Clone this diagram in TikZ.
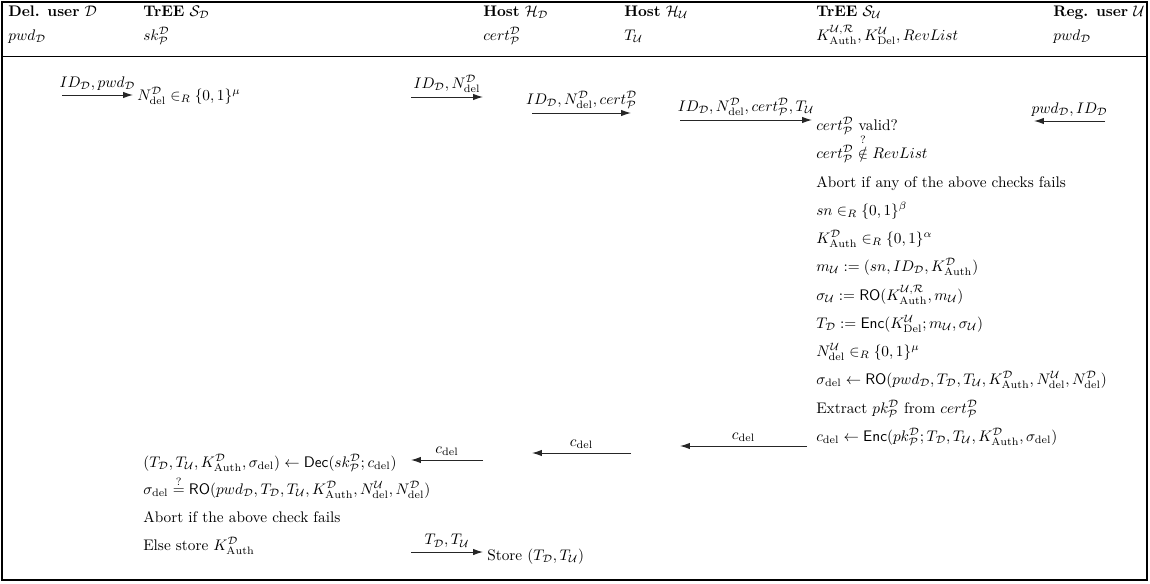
\documentclass[tikz,border=0pt]{standalone}
\usetikzlibrary{arrows.meta}
\newcommand{\cD}{\mathcal{D}}
\newcommand{\cU}{\mathcal{U}}
\newcommand{\cP}{\mathcal{P}}
\newcommand{\del}{\mathrm{del}}
\newcommand{\Auth}{\mathrm{Auth}}
\begin{document}
\begin{tikzpicture}[x=0.653pt,y=-0.653pt,
  txt/.style={anchor=base west, inner sep=0pt},
  msg/.style={-{Latex[length=6.5pt,width=4.2pt]}, line width=0.65pt, draw=black!85},
  lbl/.style={above, inner sep=2.5pt}]
\useasboundingbox (0,0) rectangle (1150,583);
\draw[line width=0.8pt] (2,2) rectangle (1147,580);
\draw[line width=0.6pt] (2,56) -- (1147,56);
% headers
\node[txt] (h1) at (8,16) {\textbf{Del. user} $\cD$};
\node[txt] (h2) at (143,16) {\textbf{TrEE} $\mathcal{S}_{\cD}$};
\node[txt] (h3) at (483,16) {\textbf{Host} $\mathcal{H}_{\cD}$};
\node[txt] (h4) at (624,16) {\textbf{Host} $\mathcal{H}_{\cU}$};
\node[txt] (h5) at (816,16) {\textbf{TrEE} $\mathcal{S}_{\cU}$};
\node[txt] (h6) at (1053,16) {\textbf{Reg. user} $\cU$};
\node[txt] (k1) at (8,40) {$pwd_{\cD}$};
\node[txt] (k2) at (143,40) {$sk^{\cD}_{\cP}$};
\node[txt] (k3) at (483,40) {$cert^{\cD}_{\cP}$};
\node[txt] (k4) at (624,40) {$T_{\cU}$};
\node[txt] (k5) at (816,40) {$K^{\cU,\mathcal{R}}_{\Auth}, K^{\cU}_{\mathrm{Del}}, RevList$};
\node[txt] (k6) at (1053,40) {$pwd_{\cD}$};
% messages top
\coordinate (a1s) at (62,95); \coordinate (a1e) at (133,95);
\draw[msg] (a1s) -- (a1e) node[lbl, midway] {$ID_{\cD}, pwd_{\cD}$};
\node[txt] (n1) at (137,100) {$N^{\cD}_{\del} \in_R \{0,1\}^{\mu}$};
\coordinate (a2s) at (411,97); \coordinate (a2e) at (483,97);
\draw[msg] (a2s) -- (a2e) node[lbl, midway] {$ID_{\cD}, N^{\cD}_{\del}$};
\coordinate (a3s) at (532,113); \coordinate (a3e) at (631,113);
\draw[msg] (a3s) -- (a3e) node[lbl, midway] {$ID_{\cD}, N^{\cD}_{\del}, cert^{\cD}_{\cP}$};
\coordinate (a4s) at (680,120); \coordinate (a4e) at (812,120);
\draw[msg] (a4s) -- (a4e) node[lbl, midway] {$ID_{\cD}, N^{\cD}_{\del}, cert^{\cD}_{\cP}, T_{\cU}$};
\coordinate (a5s) at (1105,121); \coordinate (a5e) at (1034,121);
\draw[msg] (a5s) -- (a5e) node[lbl, midway] {$pwd_{\cD}, ID_{\cD}$};
% S_U computations
\node[txt] (s1) at (816,130) {$cert^{\cD}_{\cP}$ valid?};
\node[txt] (s2) at (816,158) {$cert^{\cD}_{\cP} \stackrel{?}{\notin} RevList$};
\node[txt] (s3) at (816,187) {Abort if any of the above checks fails};
\node[txt] (s4) at (816,215) {$sn \in_R \{0,1\}^{\beta}$};
\node[txt] (s5) at (816,243) {$K^{\cD}_{\Auth} \in_R \{0,1\}^{\alpha}$};
\node[txt] (s6) at (816,271) {$m_{\cU} := (sn, ID_{\cD}, K^{\cD}_{\Auth})$};
\node[txt] (s7) at (816,300) {$\sigma_{\cU} := \mathsf{RO}(K^{\cU,\mathcal{R}}_{\Auth}, m_{\cU})$};
\node[txt] (s8) at (816,328) {$T_{\cD} := \mathsf{Enc}(K^{\cU}_{\mathrm{Del}}; m_{\cU}, \sigma_{\cU})$};
\node[txt] (s9) at (816,356) {$N^{\cU}_{\del} \in_R \{0,1\}^{\mu}$};
\node[txt] (s10) at (816,384) {$\sigma_{\del} \leftarrow \mathsf{RO}(pwd_{\cD}, T_{\cD}, T_{\cU}, K^{\cD}_{\Auth}, N^{\cU}_{\del}, N^{\cD}_{\del})$};
\node[txt] (s11) at (816,413) {Extract $pk^{\cD}_{\cP}$ from $cert^{\cD}_{\cP}$};
\node[txt] (s12) at (816,441) {$c_{\del} \leftarrow \mathsf{Enc}(pk^{\cD}_{\cP}; T_{\cD}, T_{\cU}, K^{\cD}_{\Auth}, \sigma_{\del})$};
% messages back
\coordinate (b3s) at (807,446); \coordinate (b3e) at (680,446);
\draw[msg] (b3s) -- (b3e) node[lbl, midway] {$c_{\del}$};
\coordinate (b2s) at (631,453); \coordinate (b2e) at (532,453);
\draw[msg] (b2s) -- (b2e) node[lbl, midway] {$c_{\del}$};
\coordinate (b1s) at (483,460); \coordinate (b1e) at (411,460);
\draw[msg] (b1s) -- (b1e) node[lbl, midway] {$c_{\del}$};
% S_D computations
\node[txt] (d1) at (143,467) {$(T_{\cD}, T_{\cU}, K^{\cD}_{\Auth}, \sigma_{\del}) \leftarrow \mathsf{Dec}(sk^{\cD}_{\cP}; c_{\del})$};
\node[txt] (d2) at (143,494) {$\sigma_{\del} \stackrel{?}{=} \mathsf{RO}(pwd_{\cD}, T_{\cD}, T_{\cU}, K^{\cD}_{\Auth}, N^{\cU}_{\del}, N^{\cD}_{\del})$};
\node[txt] (d3) at (143,522) {Abort if the above check fails};
\node[txt] (d4) at (143,550) {Else store $K^{\cD}_{\Auth}$};
\coordinate (c1s) at (411,552); \coordinate (c1e) at (483,552);
\draw[msg] (c1s) -- (c1e) node[lbl, midway] {$T_{\cD}, T_{\cU}$};
\node[txt] (st) at (487,560) {Store $(T_{\cD}, T_{\cU})$};
\end{tikzpicture}
\end{document}
